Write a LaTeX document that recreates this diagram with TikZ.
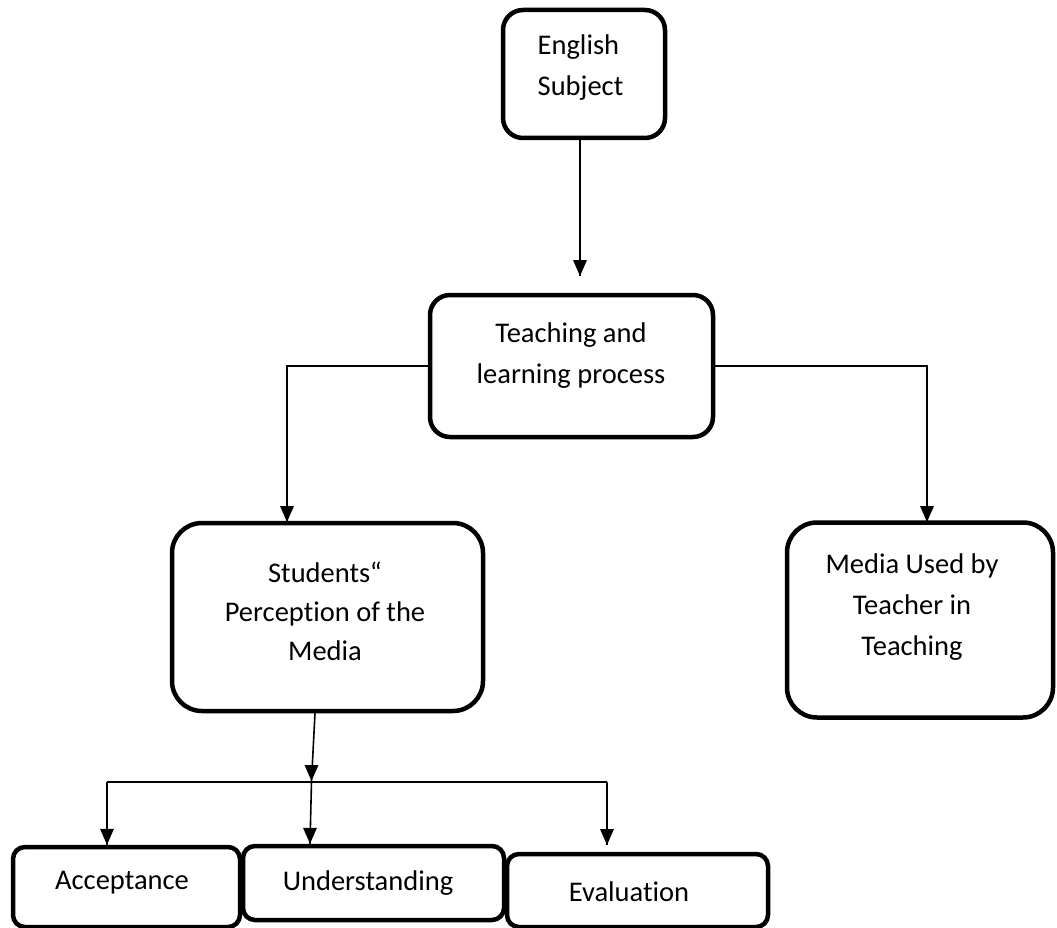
\documentclass[tikz,border=0pt]{standalone}
\usepackage{fontspec}
\setmainfont[Ligatures={NoCommon,NoContextual,NoRare}]{Carlito}
\begin{document}
\begin{tikzpicture}[x=1pt,y=-1pt,
  box/.style={draw=black,line width=4.5pt,rounded corners=20pt,inner sep=0pt},
  boxtext/.style={inner sep=0pt,align=center,font=\fontsize{28.5}{41}\selectfont},
  link/.style={draw=black,line width=1.6pt}]
\useasboundingbox (0,0) rectangle (1057,928);
\node [box,minimum width=162pt,minimum height=128pt] (english) at (584,74) {};
\node [boxtext,align=left] (englishtext) at (580.5,67.5) {English\\Subject};
\node [box,minimum width=283pt,minimum height=142pt] (teaching) at (571.5,366) {};
\node [boxtext] (teachingtext) at (571,356) {Teaching and\\learning process};
\node [box,rounded corners=30pt,minimum width=311pt,minimum height=188pt] (students) at (327.5,617) {};
\node [boxtext,font=\fontsize{28.5}{39}\selectfont] (studentstext) at (325,611) {Students“\\Percept\kern0pt ion of the\\Media};
\node [box,rounded corners=30pt,minimum width=266pt,minimum height=195pt] (media) at (920,620) {};
\node [boxtext] (mediatext) at (912,607.5) {Media Used by\\Teacher in\\Teaching};
\node [box,rounded corners=12pt,minimum width=227pt,minimum height=80pt] (acceptance) at (126.5,887) {};
\node [boxtext] (acceptancetext) at (122,883) {Acceptance};
\node [box,rounded corners=12pt,minimum width=261pt,minimum height=74pt] (understanding) at (373.5,883) {};
\node [boxtext] (understandingtext) at (368,883) {Understanding};
\node [box,rounded corners=12pt,minimum width=261pt,minimum height=73pt] (evaluation) at (637.5,890.5) {};
\node [boxtext] (evaluationtext) at (629,892) {Evaluat\kern0pt ion};
\coordinate (englishtip) at (580,276);
\draw [link] (english.south -| englishtip) -- (englishtip);
\fill [black] (englishtip) -- ++(-7,-16) -- ++(14,0) -- cycle;
\coordinate (studentstip) at (287,522);
\draw [link] (teaching.west) -| (studentstip);
\fill [black] (studentstip) -- ++(-7,-16) -- ++(14,0) -- cycle;
\coordinate (mediatip) at (927,522);
\draw [link] (teaching.east) -| (mediatip);
\fill [black] (mediatip) -- ++(-7,-16) -- ++(14,0) -- cycle;
\coordinate (splittip) at (311.5,781);
\draw [link] ([xshift=-12.5pt]students.south) -- (splittip);
\fill [black] (splittip) -- ++(-7,-16) -- ++(14,0) -- cycle;
\coordinate (splitleft) at (107,782);
\coordinate (splitright) at (607,782);
\draw [link] (splitleft) -- (splitright);
\draw [link] (splitleft) -- (acceptance.north -| splitleft);
\fill [black] (acceptance.north -| splitleft) -- ++(-7,-16) -- ++(14,0) -- cycle;
\draw [link] (splittip) -- ([xshift=-63.5pt]understanding.north);
\fill [black] ([xshift=-63.5pt]understanding.north) -- ++(-7,-16) -- ++(14,0) -- cycle;
\coordinate (evaluationtip) at (607,845);
\draw [link] (splitright) -- (evaluationtip);
\fill [black] (evaluationtip) -- ++(-7,-16) -- ++(14,0) -- cycle;
\end{tikzpicture}
\end{document}
